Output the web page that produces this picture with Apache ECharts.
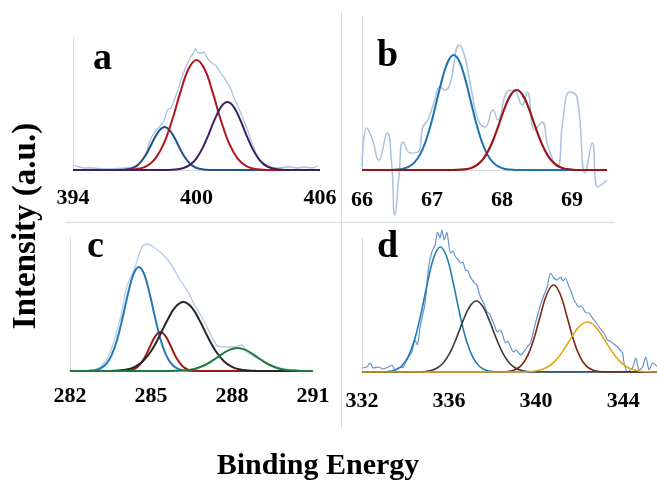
<!DOCTYPE html>
<html>
<head>
<meta charset="utf-8">
<script src="https://cdn.jsdelivr.net/npm/echarts@6/dist/echarts.min.js"></script>
<style>
  html, body { margin: 0; padding: 0; background: #fff; }
  #chart { width: 657px; height: 483px; }
</style>
</head>
<body>
<div id="chart"></div>
<script>
// ---- Panel a: N 1s region (binding energy, intensity) ----
const aTicks = [394, 400, 406];
const aRaw = [[394.0,5],[394.3,3],[394.6,2],[394.98,2],[395.4,1],[395.94,1],[396.5,2],[397.07,2],[397.23,7],[397.55,17],[397.71,27],[397.87,35],[398.19,43],[398.43,50],[398.59,60],[398.76,62],[398.92,70],[399.07,78],[399.24,90],[399.48,103],[399.72,113],[399.88,118],[399.96,121],[400.09,117],[400.25,117],[400.36,118],[400.52,112],[400.76,107],[401.0,103],[401.17,97],[401.33,93],[401.49,87],[401.65,82],[401.81,73],[402.05,62],[402.29,50],[402.53,37],[402.77,23],[403.01,12],[403.25,5],[403.49,3],[403.98,2],[404.3,3],[404.62,3],[404.9,2],[405.26,3],[405.6,2],[405.9,4]];
const aPeak1 = [[394,0],[396.1,0],[396.45,0.3],[396.7,0.9],[396.95,2.5],[397.2,6.0],[397.45,12.2],[397.7,21.2],[397.95,31.4],[398.2,39.7],[398.45,43],[398.7,39.7],[398.95,31.4],[399.2,21.2],[399.45,12.2],[399.7,6.0],[399.95,2.5],[400.2,0.9],[400.45,0.3],[400.8,0],[406,0]];
const aPeak2 = [[394,0],[396.4,0],[396.8,0.3],[397.2,1.3],[397.6,4.2],[398.0,11.4],[398.4,25.8],[398.8,48.7],[399.2,76.6],[399.6,100.5],[400.0,110],[400.4,100.5],[400.8,76.6],[401.2,48.7],[401.6,25.8],[402.0,11.4],[402.4,4.2],[402.8,1.3],[403.2,0.3],[403.6,0],[406,0]];
const aPeak3 = [[394,0],[398.5,0],[398.8,0.2],[399.1,0.8],[399.4,2.2],[399.7,5.4],[400.0,11.7],[400.3,22.1],[400.6,36.1],[400.9,51.3],[401.2,63.4],[401.5,68],[401.8,63.4],[402.1,51.3],[402.4,36.1],[402.7,22.1],[403.0,11.7],[403.3,5.4],[403.6,2.2],[403.9,0.8],[404.2,0.2],[404.5,0],[406,0]];

// ---- Panel b ----
const bTicks = [66, 67, 68, 69];
const bRaw = [[66.0,3],[66.07,42],[66.15,30],[66.24,10],[66.36,37],[66.42,10],[66.47,-45],[66.53,-5],[66.59,28],[66.69,17],[66.8,18],[66.87,43],[66.94,50],[67.04,70],[67.11,83],[67.19,80],[67.26,87],[67.39,125],[67.47,113],[67.57,77],[67.66,50],[67.76,43],[67.87,60],[67.94,50],[68.07,78],[68.16,80],[68.29,65],[68.36,78],[68.47,40],[68.57,48],[68.66,23],[68.79,3],[68.87,50],[68.97,78],[69.07,73],[69.19,-3],[69.29,27],[69.37,-17],[69.5,-10]];
const bPeak1 = [[66,0],[66.4,0],[66.51,0.4],[66.59,1.3],[66.67,3.3],[66.75,7.6],[66.83,15.6],[66.91,28.7],[66.99,47.3],[67.07,69.7],[67.15,92.1],[67.23,108.8],[67.31,115],[67.39,108.8],[67.47,92.1],[67.55,69.7],[67.63,47.3],[67.71,28.7],[67.79,15.6],[67.87,7.6],[67.95,3.3],[68.03,1.3],[68.11,0.4],[68.2,0],[69.5,0]];
const bPeak2 = [[66,0],[67.3,0],[67.41,0.3],[67.49,0.9],[67.57,2.3],[67.65,5.3],[67.73,10.8],[67.81,20.0],[67.89,32.9],[67.97,48.5],[68.05,64.1],[68.13,75.7],[68.21,80],[68.29,75.7],[68.37,64.1],[68.45,48.5],[68.53,32.9],[68.61,20.0],[68.69,10.8],[68.77,5.3],[68.85,2.3],[68.93,0.9],[69.01,0.3],[69.1,0],[69.5,0]];

// ---- Panel c: C 1s region ----
const cTicks = [282, 285, 288, 291];
const cRaw = [[282.0,0],[282.85,1],[283.2,6],[283.48,18],[283.85,51],[284.1,84],[284.41,104],[284.66,124],[284.87,127],[285.09,124],[285.34,119],[285.71,108],[286.08,91],[286.38,79],[286.57,68],[286.94,51],[287.43,26],[287.7,24],[288.05,24],[288.36,26],[288.55,19],[289.04,11],[289.65,4],[290.27,1],[291.0,0]];
const cPeak1 = [[282,0],[282.5,0],[282.75,0.3],[282.95,0.9],[283.15,2.8],[283.35,7.3],[283.55,16.4],[283.75,31.8],[283.95,53.4],[284.15,77.4],[284.35,96.6],[284.55,104],[284.75,96.6],[284.95,77.4],[285.15,53.4],[285.35,31.8],[285.55,16.4],[285.75,7.3],[285.95,2.8],[286.15,0.9],[286.35,0.3],[286.6,0],[291,0]];
const cPeak2 = [[282,0],[283.7,0],[283.95,0.1],[284.15,0.4],[284.35,1.7],[284.55,5.3],[284.75,12.7],[284.95,23.7],[285.15,34.4],[285.35,39],[285.55,34.4],[285.75,23.7],[285.95,12.7],[286.15,5.3],[286.35,1.7],[286.55,0.4],[286.75,0.1],[287.0,0],[291,0]];
const cPeak3 = [[282,0],[283.2,0],[283.5,0.1],[283.8,0.5],[284.1,1.5],[284.4,4.2],[284.7,9.8],[285.0,19.8],[285.3,34.2],[285.6,50.5],[285.9,63.8],[286.2,69],[286.5,63.8],[286.8,50.5],[287.1,34.2],[287.4,19.8],[287.7,9.8],[288.0,4.2],[288.3,1.5],[288.6,0.5],[288.9,0.1],[289.2,0],[291,0]];
const cPeak4 = [[282,0],[285.5,0],[285.8,0.1],[286.1,0.4],[286.4,1.1],[286.7,2.8],[287.0,6.0],[287.3,10.8],[287.6,16.4],[287.9,21.1],[288.2,23],[288.5,21.1],[288.8,16.4],[289.1,10.8],[289.4,6.0],[289.7,2.8],[290.0,1.1],[290.3,0.4],[290.6,0.1],[291,0]];

// ---- Panel d ----
const dTicks = [332, 336, 340, 344];
const dRaw = [[332.0,4],[332.22,5],[332.37,9],[332.52,4],[332.75,5],[332.98,3],[333.21,5],[333.37,7],[333.52,2],[333.67,4],[333.9,5],[334.06,12],[334.29,20],[334.44,32],[334.55,27],[334.67,45],[334.9,69],[335.06,105],[335.21,120],[335.36,127],[335.47,140],[335.59,134],[335.67,142],[335.78,132],[335.9,140],[336.06,119],[336.18,121],[336.29,115],[336.4,113],[336.52,109],[336.63,110],[336.75,102],[336.87,101],[336.98,95],[337.13,90],[337.28,87],[337.44,75],[337.59,69],[337.75,60],[337.87,58],[337.98,52],[338.1,46],[338.21,40],[338.33,42],[338.44,39],[338.59,29],[338.7,31],[338.82,25],[338.97,20],[339.08,22],[339.2,19],[339.32,17],[339.43,20],[339.59,25],[339.74,29],[339.89,42],[340.13,62],[340.36,77],[340.51,85],[340.66,99],[340.82,94],[340.97,92],[341.12,95],[341.24,91],[341.35,94],[341.51,85],[341.62,80],[341.74,72],[341.85,68],[341.97,65],[342.08,66],[342.2,62],[342.31,59],[342.43,59],[342.55,55],[342.66,52],[342.77,49],[342.89,45],[343.0,42],[343.12,39],[343.27,32],[343.4,31],[343.51,29],[343.63,27],[343.74,25],[343.86,22],[343.97,19],[344.04,9],[344.2,0],[344.43,4],[344.58,14],[344.73,2],[344.89,5],[345.04,15],[345.19,2],[345.35,9],[345.58,5]];
const dPeak1 = [[332,0],[332.6,0],[332.9,0.1],[333.2,0.5],[333.5,1.8],[333.8,5.5],[334.1,14.3],[334.4,31.2],[334.7,57.2],[335.0,88.3],[335.3,114.6],[335.6,125],[335.9,114.6],[336.2,88.3],[336.5,57.2],[336.8,31.2],[337.1,14.3],[337.4,5.5],[337.7,1.8],[338.0,0.5],[338.3,0.1],[338.6,0],[345.6,0]];
const dPeak2 = [[332,0],[334.25,0],[334.55,0.1],[334.85,0.4],[335.15,1.4],[335.45,4.0],[335.75,9.6],[336.05,19.7],[336.35,34.6],[336.65,51.6],[336.95,65.5],[337.25,71],[337.55,65.5],[337.85,51.6],[338.15,34.6],[338.45,19.7],[338.75,9.6],[339.05,4.0],[339.35,1.4],[339.65,0.4],[339.95,0.1],[340.25,0],[345.6,0]];
const dPeak3 = [[332,0],[338.1,0],[338.4,0.1],[338.7,0.5],[339.0,1.9],[339.3,6.1],[339.6,15.8],[339.9,33.4],[340.2,56.8],[340.5,78.2],[340.8,87],[341.1,78.2],[341.4,56.8],[341.7,33.4],[342.0,15.8],[342.3,6.1],[342.6,1.9],[342.9,0.5],[343.2,0.1],[343.5,0],[345.6,0]];
const dPeak4 = [[332,0],[339.2,0],[339.55,0.2],[339.9,0.8],[340.25,2.4],[340.6,6.0],[340.95,12.9],[341.3,23.3],[341.65,35.6],[342.0,45.9],[342.35,50],[342.7,45.9],[343.05,35.6],[343.4,23.3],[343.75,12.9],[344.1,6.0],[344.45,2.4],[344.8,0.8],[345.15,0.2],[345.6,0]];

const SERIF = '"Liberation Serif", "Times New Roman", serif';
const AXIS_GREY = '#d9d9d9';

function xAxisFor(idx, min, max, interval, ticks, margin) {
  return {
    type: 'value', gridIndex: idx, min: min, max: max, interval: interval,
    axisLine: { show: true, onZero: true, lineStyle: { color: AXIS_GREY, width: 1 } },
    axisTick: { show: false },
    splitLine: { show: false },
    axisLabel: {
      margin: margin, color: '#000', fontFamily: SERIF, fontWeight: 'bold', fontSize: 22,
      showMinLabel: true, showMaxLabel: true,
      formatter: v => (ticks.some(t => Math.abs(t - v) < 1e-6) ? String(v) : '')
    }
  };
}
function yAxisFor(idx, max) {
  return {
    type: 'value', gridIndex: idx, min: 0, max: max,
    axisLine: { show: true, lineStyle: { color: AXIS_GREY, width: 1 } },
    axisTick: { show: false }, axisLabel: { show: false }, splitLine: { show: false }
  };
}
function curve(idx, data, color, width, opts) {
  return Object.assign({
    type: 'line', xAxisIndex: idx, yAxisIndex: idx, data: data,
    showSymbol: false, symbol: 'none', smooth: 0.4,
    lineStyle: { color: color, width: width }, silent: true
  }, opts || {});
}

const chart = echarts.init(document.getElementById('chart'), null, { renderer: 'canvas' });
chart.setOption({
  animation: false,
  backgroundColor: '#fff',
  grid: [
    { left: 73,  top: 37,  width: 247, height: 133, outerBoundsMode: 'none' },
    { left: 362, top: 16,  width: 245, height: 154, outerBoundsMode: 'none' },
    { left: 70,  top: 237, width: 243, height: 134, outerBoundsMode: 'none' },
    { left: 362, top: 238, width: 296, height: 134, outerBoundsMode: 'none' }
  ],
  xAxis: [
    xAxisFor(0, 394, 406, 2, aTicks, 17),
    xAxisFor(1, 66, 69.5, 1, bTicks, 19),
    xAxisFor(2, 282, 291, 3, cTicks, 14),
    xAxisFor(3, 332, 345.6, 4, dTicks, 18)
  ],
  yAxis: [ yAxisFor(0, 133), yAxisFor(1, 154), yAxisFor(2, 134), yAxisFor(3, 134) ],
  series: [
    curve(0, aRaw, '#a9c2de', 1.3, { smooth: 0.3 }),
    curve(0, aPeak1, '#21508a', 2),
    curve(0, aPeak2, '#b3141c', 2),
    curve(0, aPeak3, '#3a2060', 2),

    curve(1, bRaw, '#a9c2de', 1.5, { smooth: 0.5, clip: false }),
    curve(1, bPeak1, '#1b74b0', 2),
    curve(1, bPeak2, '#991518', 2.2),

    curve(2, cRaw, '#b6cde6', 1.3, { smooth: 0.3 }),
    curve(2, cPeak1, '#2477b8', 2),
    curve(2, cPeak2, '#9b1a1a', 2),
    curve(2, cPeak3, '#262626', 2),
    curve(2, cPeak4, '#20793a', 2),

    curve(3, dRaw, '#6393cc', 1.2, { smooth: 0.2, clip: false }),
    curve(3, dPeak1, '#1f7ab5', 1.6),
    curve(3, dPeak2, '#3b3b3b', 1.6),
    curve(3, dPeak3, '#7a2a12', 1.6),
    curve(3, dPeak4, '#e2a91a', 1.6)
  ],
  graphic: [
    { type: 'line', silent: true, shape: { x1: 341.5, y1: 12, x2: 341.5, y2: 428 }, style: { stroke: AXIS_GREY, lineWidth: 1 } },
    { type: 'line', silent: true, shape: { x1: 65, y1: 222.5, x2: 615, y2: 222.5 }, style: { stroke: AXIS_GREY, lineWidth: 1 } },
    { type: 'text', x: 93,  y: 78,  style: { text: 'a', font: 'bold 38px ' + SERIF, fill: '#000', align: 'left', verticalAlign: 'bottom' } },
    { type: 'text', x: 377, y: 75,  style: { text: 'b', font: 'bold 38px ' + SERIF, fill: '#000', align: 'left', verticalAlign: 'bottom' } },
    { type: 'text', x: 87,  y: 266, style: { text: 'c', font: 'bold 38px ' + SERIF, fill: '#000', align: 'left', verticalAlign: 'bottom' } },
    { type: 'text', x: 377, y: 266, style: { text: 'd', font: 'bold 38px ' + SERIF, fill: '#000', align: 'left', verticalAlign: 'bottom' } },
    { type: 'text', x: 318, y: 466, style: { text: 'Binding Energy', font: 'bold 30px ' + SERIF, fill: '#000', align: 'center', verticalAlign: 'middle' } },
    { type: 'text', x: 26, y: 226, rotation: Math.PI / 2, style: { text: 'Intensity (a.u.)', font: 'bold 33px ' + SERIF, fill: '#000', align: 'center', verticalAlign: 'middle' } }
  ]
});
</script>
</body>
</html>
